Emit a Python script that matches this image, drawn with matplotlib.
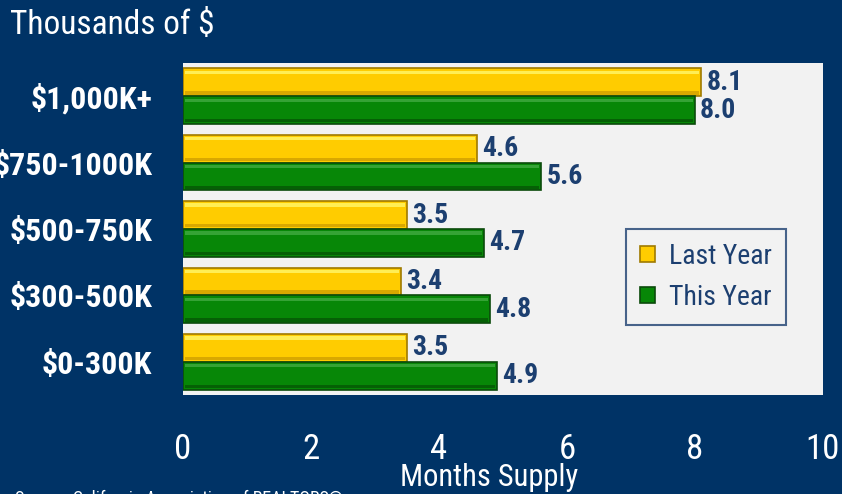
import matplotlib
matplotlib.use("Agg")
import matplotlib.pyplot as plt
from matplotlib import font_manager
import numpy as np

names = {f.name for f in font_manager.fontManager.ttflist}
FONT = next((n for n in ["Liberation Sans Narrow", "Roboto Condensed", "Barlow Semi Condensed",
                         "Asap Condensed", "Archivo Narrow"] if n in names), "DejaVu Sans")
plt.rcParams['font.family'] = [FONT, 'DejaVu Sans']

categories = ["$1,000K+", "$750-1000K", "$500-750K", "$300-500K", "$0-300K"]
last_year = [8.1, 4.6, 3.5, 3.4, 3.5]
this_year = [8.0, 5.6, 4.7, 4.8, 4.9]
xticks = [0, 2, 4, 6, 8, 10]

BG = "#003366"
NAVY = "#1C3F70"
YELLOW = "#FFCC00"
GREEN = "#078707"

fig = plt.figure(figsize=(8.42, 4.94), dpi=100, facecolor=BG)
ax = fig.add_axes([183/842, 1-395/494, 640/842, 332/494])
ax.set_facecolor("#F2F2F2")

y = np.arange(len(categories))
h = 0.42
ax.barh(y - h/2, last_year, height=h, color=YELLOW, edgecolor="#A07A00", linewidth=1.2, label="Last Year")
ax.barh(y + h/2, this_year, height=h, color=GREEN, edgecolor="#0B4A0B", linewidth=1.2, label="This Year")
# bevel highlights / shadows
ax.barh(y - h + 0.06, np.array(last_year) - 0.06, height=0.05, left=0.03, color="#FFEE55", linewidth=0)
ax.barh(y - 0.05, np.array(last_year) - 0.06, height=0.05, left=0.03, color="#D9A800", linewidth=0)
ax.barh(y + 0.06, np.array(this_year) - 0.06, height=0.05, left=0.03, color="#35A335", linewidth=0)
ax.barh(y + h - 0.05, np.array(this_year) - 0.06, height=0.05, left=0.03, color="#056005", linewidth=0)

for yi, v in zip(y, last_year):
    ax.text(v + 0.08, yi - h/2, f"{v:.1f}", va="center", ha="left", fontsize=20, fontweight="bold", color=NAVY)
for yi, v in zip(y, this_year):
    ax.text(v + 0.08, yi + h/2, f"{v:.1f}", va="center", ha="left", fontsize=20, fontweight="bold", color=NAVY)

ax.set_xlim(0, 10)
ax.set_ylim(len(categories) - 0.5, -0.5)
ax.set_yticks(y)
ax.set_yticklabels(categories, fontsize=23, fontweight="bold", color="white")
ax.set_xticks(xticks)
ax.set_xticklabels([str(t) for t in xticks], fontsize=25, color="white")
ax.tick_params(axis="both", length=0)
ax.tick_params(axis="x", pad=27)
ax.tick_params(axis="y", pad=22)
for s in ax.spines.values():
    s.set_visible(False)

ax.set_xlabel("Months Supply", fontsize=22, color="white")
ax.xaxis.set_label_coords((489-183)/640, -(477-395)/332)
ax.xaxis.label.set_va("center")

leg = ax.legend(loc="upper left", bbox_to_anchor=((626-183)/640, (395-229)/332),
                fontsize=20, frameon=True, fancybox=False, handlelength=0.55, handleheight=0.55,
                borderpad=0.5, labelspacing=0.5, handletextpad=0.5, borderaxespad=0)
leg.get_frame().set_edgecolor(NAVY)
leg.get_frame().set_facecolor("#F2F2F2")
leg.get_frame().set_linewidth(1.5)
for t in leg.get_texts():
    t.set_color(NAVY)

fig.text(10/842, 1-9/494, "Thousands of $", fontsize=24, color="white", va="top", ha="left")
fig.text(15/842, 1-490/494, "Source: California Association of REALTORS®", fontsize=13, color="white",
         va="top", ha="left")

fig.savefig("out.png", dpi=100, facecolor=BG)
